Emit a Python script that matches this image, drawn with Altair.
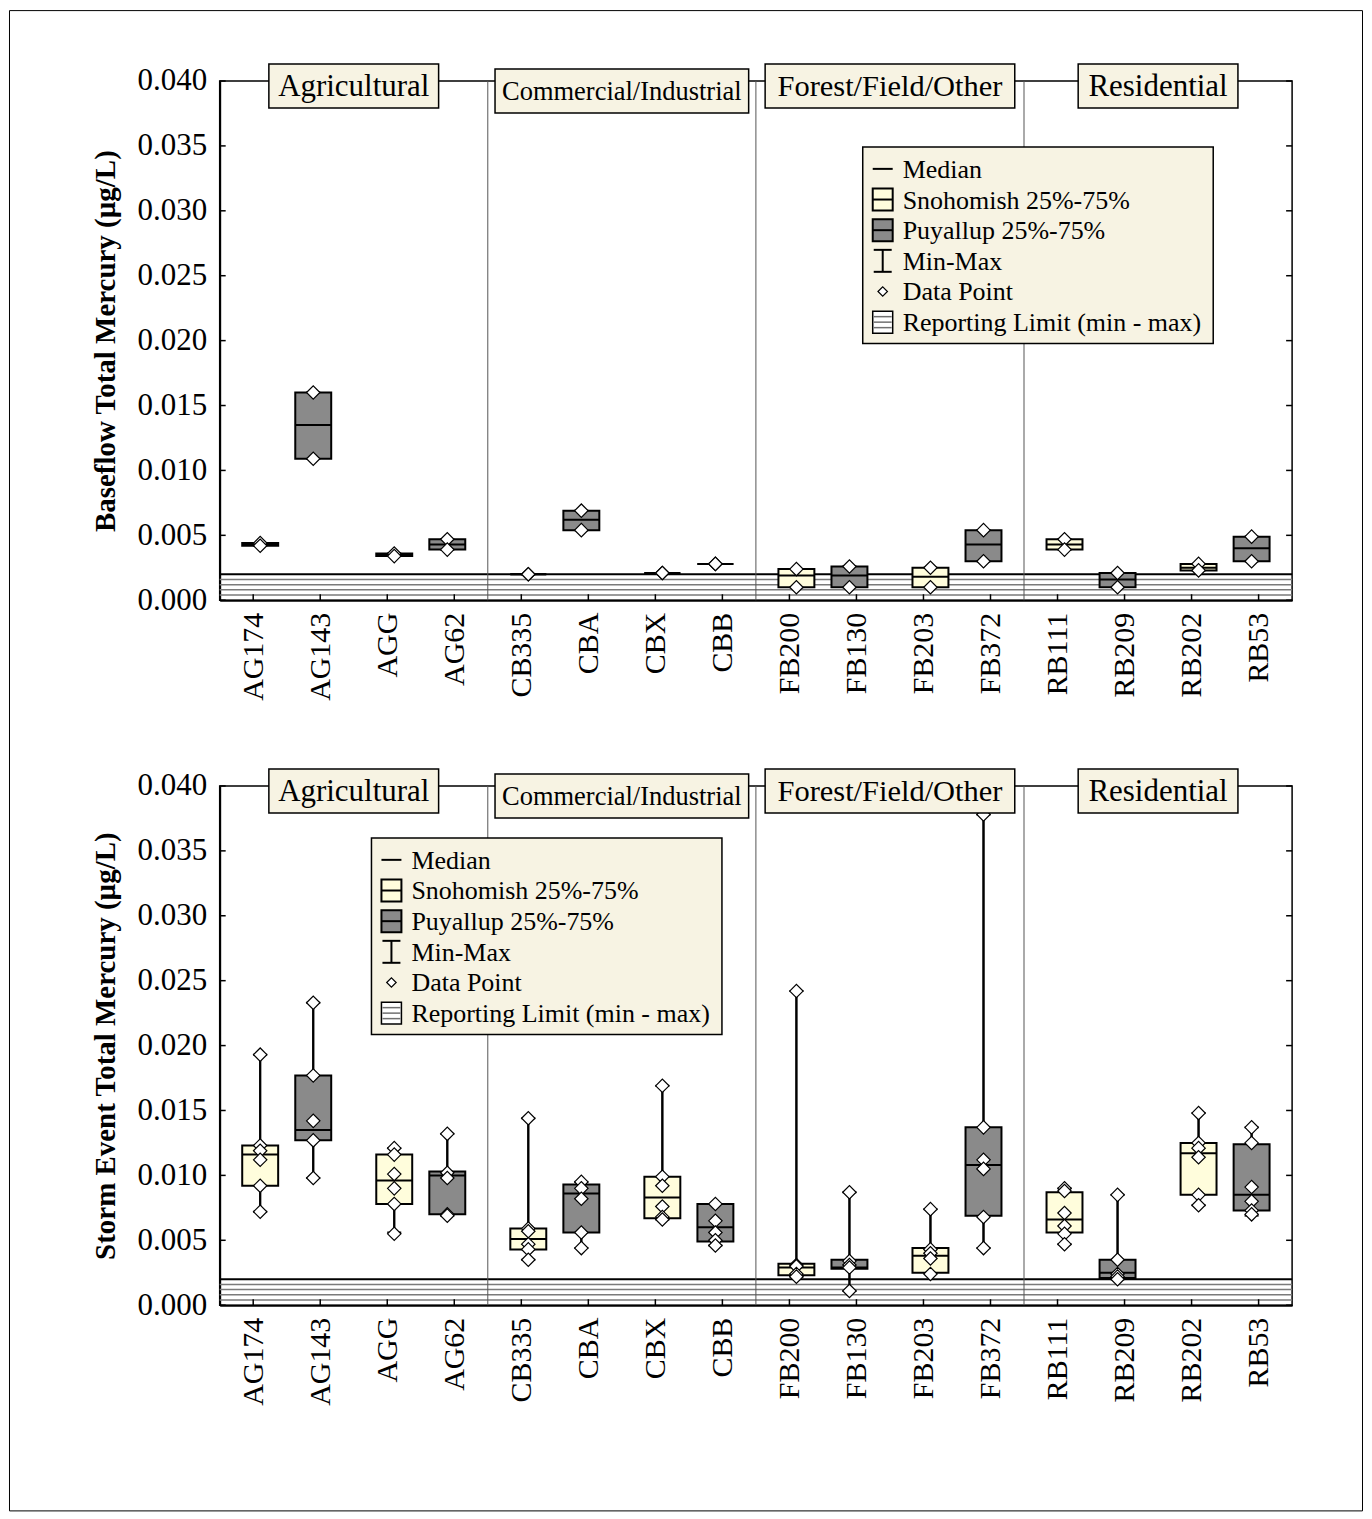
import altair as alt
import pandas as pd

# ---------------- data ----------------
sites = ["AG174", "AG143", "AGG", "AG62", "CB335", "CBA", "CBX", "CBB",
         "FB200", "FB130", "FB203", "FB372", "RB111", "RB209", "RB202", "RB53"]
basins = ["Snohomish", "Puyallup"] * 8
groups = ["Agricultural", "Commercial/Industrial", "Forest/Field/Other", "Residential"]
y_tick_values = [0.000, 0.005, 0.010, 0.015, 0.020, 0.025, 0.030, 0.035, 0.040]
reporting_limit_lines = [0.0004, 0.0008, 0.0012, 0.0016]
reporting_limit_max = [0.0020]
legend_labels = ["Median", "Snohomish 25%-75%", "Puyallup 25%-75%", "Min-Max",
                 "Data Point", "Reporting Limit (min - max)"]

# Baseflow
base_min = [0.0042, 0.0109, 0.0034, 0.0039, 0.0020, 0.0054, 0.0021, 0.0028,
            0.0010, 0.0010, 0.0010, 0.0030, 0.0039, 0.0010, 0.0023, 0.0030]
base_q1 = [0.0042, 0.0109, 0.0034, 0.0039, 0.0020, 0.0054, 0.0021, 0.0028,
           0.0010, 0.0010, 0.0010, 0.0030, 0.0039, 0.0010, 0.0023, 0.0030]
base_med = [0.0043, 0.0135, 0.0035, 0.0043, 0.0020, 0.0062, 0.0021, 0.0028,
            0.0019, 0.0019, 0.0018, 0.0043, 0.0043, 0.0016, 0.0025, 0.0040]
base_q3 = [0.0044, 0.0160, 0.0036, 0.0047, 0.0020, 0.0069, 0.0021, 0.0028,
           0.0024, 0.0026, 0.0025, 0.0054, 0.0047, 0.0021, 0.0028, 0.0049]
base_max = [0.0044, 0.0160, 0.0036, 0.0047, 0.0020, 0.0069, 0.0021, 0.0028,
            0.0024, 0.0026, 0.0025, 0.0054, 0.0047, 0.0021, 0.0028, 0.0049]
base_points = [
    [0.0044, 0.0042], [0.0160, 0.0109], [0.0036, 0.0034], [0.0047, 0.0039],
    [0.0020, 0.0020], [0.0069, 0.0054], [0.0021, 0.0021], [0.0028, 0.0028],
    [0.0024, 0.0010], [0.0026, 0.0010], [0.0025, 0.0010], [0.0054, 0.0030],
    [0.0047, 0.0039], [0.0021, 0.0010], [0.0028, 0.0023], [0.0049, 0.0030],
]

# Storm event
storm_min = [0.0072, 0.0098, 0.0056, 0.0069, 0.0035, 0.0044, 0.0066, 0.0046,
             0.0022, 0.0011, 0.0025, 0.0044, 0.0047, 0.0020, 0.0077, 0.0069]
storm_q1 = [0.0092, 0.0127, 0.0078, 0.0070, 0.0043, 0.0056, 0.0067, 0.0049,
            0.0023, 0.0028, 0.0025, 0.0069, 0.0056, 0.0021, 0.0085, 0.0073]
storm_med = [0.0116, 0.0135, 0.0096, 0.0100, 0.0051, 0.0086, 0.0083, 0.0060,
             0.0029, 0.0029, 0.0038, 0.0108, 0.0066, 0.0025, 0.0117, 0.0085]
storm_q3 = [0.0123, 0.0177, 0.0116, 0.0103, 0.0059, 0.0093, 0.0099, 0.0078,
            0.0032, 0.0035, 0.0044, 0.0137, 0.0087, 0.0035, 0.0125, 0.0124]
storm_max = [0.0193, 0.0233, 0.0121, 0.0132, 0.0144, 0.0095, 0.0169, 0.0078,
             0.0242, 0.0087, 0.0074, 0.0378, 0.0090, 0.0085, 0.0148, 0.0137]
storm_points = [
    [0.0193, 0.0123, 0.0119, 0.0112, 0.0092, 0.0072],
    [0.0233, 0.0177, 0.0142, 0.0127, 0.0098],
    [0.0121, 0.0116, 0.0101, 0.0090, 0.0078, 0.0055],
    [0.0132, 0.0102, 0.0098, 0.0070, 0.0069],
    [0.0144, 0.0059, 0.0057, 0.0047, 0.0043, 0.0035],
    [0.0095, 0.0090, 0.0082, 0.0056, 0.0044],
    [0.0169, 0.0099, 0.0092, 0.0076, 0.0068, 0.0066],
    [0.0078, 0.0065, 0.0056, 0.0050, 0.0046],
    [0.0242, 0.0031, 0.0030, 0.0024, 0.0022],
    [0.0087, 0.0034, 0.0031, 0.0029, 0.0011],
    [0.0074, 0.0043, 0.0040, 0.0036, 0.0024],
    [0.0378, 0.0137, 0.0112, 0.0105, 0.0068, 0.0044],
    [0.0090, 0.0088, 0.0071, 0.0061, 0.0055, 0.0047],
    [0.0085, 0.0035, 0.0024, 0.0022, 0.0020],
    [0.0148, 0.0125, 0.0121, 0.0114, 0.0085, 0.0077],
    [0.0137, 0.0125, 0.0091, 0.0080, 0.0073, 0.0070],
]

# ---------------- style / layout ----------------
SERIF = "Liberation Serif"
W, H = 1074, 520
STEP = W / len(sites)
SNO_FILL = "#FFFDDC"
PUY_FILL = "#8A8A8A"
CREAM = "#F7F3E3"
BOX_HALF = 18
CAP_HALF = 7
BASIN_SHIFT = 7
group_box_half = [85, 127, 125, 80]
group_box_top = [-17, -12, -17, -17]
group_box_height = 44
group_font = [31, 26.5, 30.5, 31]

xs = alt.Scale(domain=[0, 16], nice=False, zero=False)
ys = alt.Scale(domain=[0, 0.04], nice=False, zero=True)
ONE = alt.Data(values=[{"k": 0}])


def site_frame(mn, q1, md, q3, mx):
    df = pd.DataFrame({"site": sites, "basin": basins, "mn": mn, "q1": q1,
                       "md": md, "q3": q3, "mx": mx})
    df["c"] = [i + 0.5 for i in range(len(sites))]
    shift = [(BASIN_SHIFT if b == "Snohomish" else -BASIN_SHIFT) / STEP for b in basins]
    df["pos"] = df["c"] + shift
    df["lo"] = df["pos"] - BOX_HALF / STEP
    df["hi"] = df["pos"] + BOX_HALF / STEP
    df["cap_lo"] = df["pos"] - CAP_HALF / STEP
    df["cap_hi"] = df["pos"] + CAP_HALF / STEP
    return df


def point_frame(df, pts):
    rows = []
    for i, vals in enumerate(pts):
        for v in vals:
            rows.append({"site": sites[i], "pos": df["pos"][i], "v": v})
    return pd.DataFrame(rows)


def legend_layers(left, top):
    w, h = 351, 197
    layers = [alt.Chart(ONE).mark_rect(fill=CREAM, stroke="black", strokeWidth=1.5).encode(
        x=alt.value(left), x2=alt.value(left + w), y=alt.value(top), y2=alt.value(top + h))]
    sx = left + 20
    for i, lab in enumerate(legend_labels):
        cy = top + 22 + 30.7 * i
        layers.append(alt.Chart(ONE).mark_text(align="left", baseline="middle", font=SERIF,
                                               fontSize=26, color="black").encode(
            x=alt.value(left + 40), y=alt.value(cy + 1), text=alt.value(lab)))
        if i == 0:
            layers.append(alt.Chart(ONE).mark_rule(color="black", strokeWidth=2).encode(
                x=alt.value(sx - 10), x2=alt.value(sx + 10), y=alt.value(cy)))
        elif i in (1, 2):
            layers.append(alt.Chart(ONE).mark_rect(fill=SNO_FILL if i == 1 else PUY_FILL,
                                                   stroke="black", strokeWidth=2).encode(
                x=alt.value(sx - 10), x2=alt.value(sx + 10), y=alt.value(cy - 11), y2=alt.value(cy + 11)))
            layers.append(alt.Chart(ONE).mark_rule(color="black", strokeWidth=2).encode(
                x=alt.value(sx - 10), x2=alt.value(sx + 10), y=alt.value(cy)))
        elif i == 3:
            layers.append(alt.Chart(ONE).mark_rule(color="black", strokeWidth=2).encode(
                x=alt.value(sx), y=alt.value(cy - 11), y2=alt.value(cy + 11)))
            for yy in (cy - 11, cy + 11):
                layers.append(alt.Chart(ONE).mark_rule(color="black", strokeWidth=2).encode(
                    x=alt.value(sx - 9), x2=alt.value(sx + 9), y=alt.value(yy)))
        elif i == 4:
            layers.append(alt.Chart(ONE).mark_point(shape="diamond", filled=True, fill="white",
                                                    stroke="black", strokeWidth=1.2, size=90,
                                                    opacity=1).encode(
                x=alt.value(sx), y=alt.value(cy)))
        else:
            layers.append(alt.Chart(ONE).mark_rect(fill="white", stroke="black", strokeWidth=1.5).encode(
                x=alt.value(sx - 10), x2=alt.value(sx + 10), y=alt.value(cy - 11), y2=alt.value(cy + 11)))
            for k in range(1, 4):
                layers.append(alt.Chart(ONE).mark_rule(color="#707070", strokeWidth=1.5).encode(
                    x=alt.value(sx - 9), x2=alt.value(sx + 9), y=alt.value(cy - 11 + 5.5 * k)))
    return layers


def group_label_layers():
    layers = []
    for g, name in enumerate(groups):
        cx = (4 * g + 2) * STEP
        top = group_box_top[g]
        layers.append(alt.Chart(ONE).mark_rect(fill=CREAM, stroke="black", strokeWidth=1.5).encode(
            x=alt.value(cx - group_box_half[g]), x2=alt.value(cx + group_box_half[g]),
            y=alt.value(top), y2=alt.value(top + group_box_height)))
        layers.append(alt.Chart(ONE).mark_text(align="center", baseline="middle", font=SERIF,
                                               fontSize=group_font[g], color="black").encode(
            x=alt.value(cx), y=alt.value(top + group_box_height / 2 + 1), text=alt.value(name)))
    return layers


def make_panel(stats, pts, ytitle, leg_left, leg_top, frame=False):
    df = site_frame(*stats)
    pdf = point_frame(df, pts)
    label_expr = "[" + ",".join("'%s'" % s for s in sites) + "][floor(datum.value)]"

    x_axis = alt.Axis(values=[i + 0.5 for i in range(len(sites))], labelExpr=label_expr,
                      labelAngle=270, labelFontSize=30, labelFont=SERIF, labelPadding=12,
                      ticks=False, tickSize=0, grid=False, title=None, labelOverlap=False,
                      labelFlush=False, domainWidth=2, domainColor="black", labelColor="black")
    y_axis = alt.Axis(values=y_tick_values, format=".3f", labelFontSize=31, labelFont=SERIF,
                      labelPadding=13, ticks=False, tickSize=0, grid=False, title=ytitle,
                      titleFont=SERIF, titleFontSize=29, titleFontWeight="bold",
                      titlePadding=17, labelFlush=False, labelOverlap=False,
                      domainWidth=2, domainColor="black", labelColor="black", titleColor="black")

    rl = pd.DataFrame({"v": reporting_limit_lines})
    rlm = pd.DataFrame({"v": reporting_limit_max})
    div = pd.DataFrame({"d": [4 * g for g in range(1, len(groups))]})
    yt = pd.DataFrame({"v": y_tick_values})

    X = lambda f: alt.X(f, scale=xs)
    Y = lambda f: alt.Y(f, scale=ys)

    layers = [
        alt.Chart(df).mark_rule(color="black", strokeWidth=2).encode(
            x=alt.X("pos:Q", scale=xs, axis=x_axis),
            y=alt.Y("mn:Q", scale=ys, axis=y_axis),
            y2="mx:Q"),
        alt.Chart(rl).mark_rule(color="#7a7a7a", strokeWidth=1.5).encode(y=Y("v:Q")),
        alt.Chart(rlm).mark_rule(color="black", strokeWidth=2).encode(y=Y("v:Q")),
        alt.Chart(div).mark_rule(color="#555555", strokeWidth=1).encode(x=X("d:Q")),
        alt.Chart(df).mark_rule(color="black", strokeWidth=2).encode(
            x=alt.X("pos:Q", scale=xs), y=Y("mn:Q"), y2="mx:Q"),
        alt.Chart(df).mark_rule(color="black", strokeWidth=2).encode(
            x=X("cap_lo:Q"), x2="cap_hi:Q", y=Y("mn:Q")),
        alt.Chart(df).mark_rule(color="black", strokeWidth=2).encode(
            x=X("cap_lo:Q"), x2="cap_hi:Q", y=Y("mx:Q")),
        alt.Chart(df).mark_rect(stroke="black", strokeWidth=2).encode(
            x=X("lo:Q"), x2="hi:Q", y=Y("q1:Q"), y2="q3:Q",
            fill=alt.Fill("basin:N", scale=alt.Scale(domain=["Snohomish", "Puyallup"],
                                                     range=[SNO_FILL, PUY_FILL]), legend=None)),
        alt.Chart(df).mark_rule(color="black", strokeWidth=2).encode(
            x=X("lo:Q"), x2="hi:Q", y=Y("md:Q")),
        alt.Chart(pdf).mark_point(shape="diamond", filled=True, fill="white", stroke="black",
                                  strokeWidth=1.2, size=180, opacity=1).encode(
            x=X("pos:Q"), y=Y("v:Q")),
        # inward x ticks
        alt.Chart(df).mark_rule(color="black", strokeWidth=1.5).encode(
            x=X("c:Q"), y=alt.value(H - 6), y2=alt.value(H)),
        # inward y ticks left and right
        alt.Chart(yt).mark_rule(color="black", strokeWidth=1.5).encode(
            y=Y("v:Q"), x=alt.value(0), x2=alt.value(6)),
        alt.Chart(yt).mark_rule(color="black", strokeWidth=1.5).encode(
            y=Y("v:Q"), x=alt.value(W - 6), x2=alt.value(W)),
    ]
    layers += group_label_layers()
    layers += legend_layers(leg_left, leg_top)
    if frame:
        layers.append(alt.Chart(ONE).mark_rect(fill="white", fillOpacity=0, stroke="black",
                                               strokeWidth=1).encode(
            x=alt.value(-210.5), x2=alt.value(1144.5), y=alt.value(-70.5), y2=alt.value(1432)))
    return alt.layer(*layers).properties(width=W, height=H)


top = make_panel((base_min, base_q1, base_med, base_q3, base_max), base_points,
                 "Baseflow Total Mercury (µg/L)", 644, 66, frame=True)
bottom = make_panel((storm_min, storm_q1, storm_med, storm_q3, storm_max), storm_points,
                    "Storm Event Total Mercury (µg/L)", 152, 52)

chart = alt.vconcat(top, bottom, spacing=186, bounds="flush", padding=0,
                    background="white").configure_view(stroke="black", strokeWidth=1.5)

chart.save("out.html", embed_options={"renderer": "svg", "actions": False})
